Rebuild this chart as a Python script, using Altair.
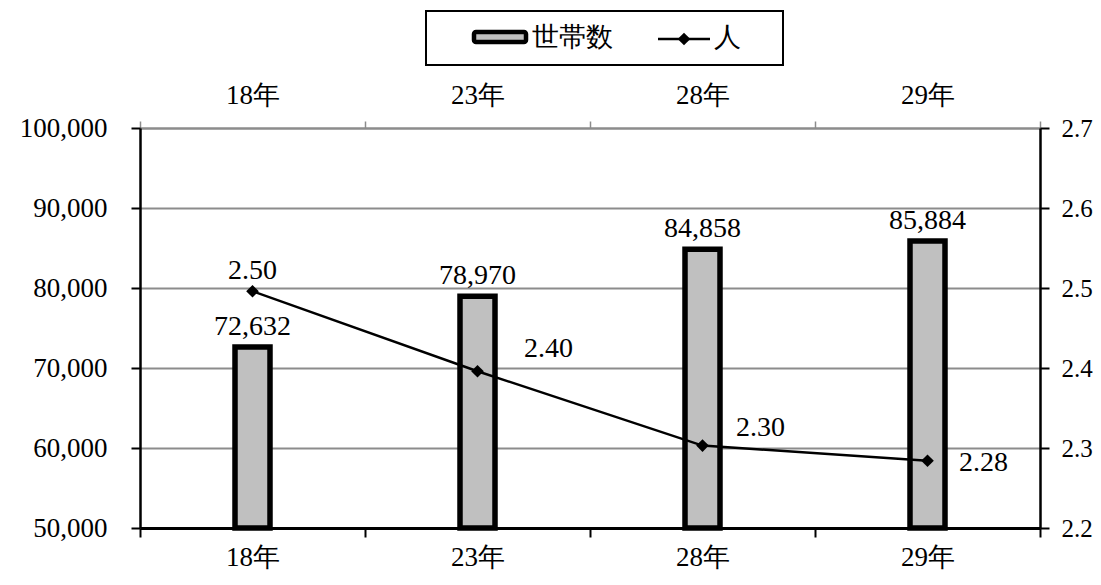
import altair as alt
import pandas as pd

categories = ["18年", "23年", "28年", "29年"]
households = [72632, 78970, 84858, 85884]
persons = [2.496, 2.396, 2.303, 2.284]
person_labels = ["2.50", "2.40", "2.30", "2.28"]

df = pd.DataFrame({
    "cat": categories,
    "households": households,
    "persons": persons,
    "plabel": person_labels,
})

FONT = "Liberation Serif"
GRID = "#8c8c8c"

# label offsets (style) for the line labels
line_label_offsets = [(0, -12), (71, -14), (58, -10), (56, 10)]

xscale = alt.Scale(paddingInner=0, paddingOuter=0)

base = alt.Chart(df)

bar_group = alt.layer(
    base.mark_bar(size=35, fill="#c0c0c0", stroke="black", strokeWidth=5.5).encode(
        y2=alt.datum(50000)
    ),
    base.mark_text(dy=-12, baseline="alphabetic", fontSize=28, font=FONT, color="black").encode(
        text=alt.Text("households:Q", format=",.0f")
    ),
).encode(
    x=alt.X("cat:N", sort=categories, scale=xscale, title=None,
            axis=alt.Axis(orient="bottom", tickBand="extent", labelAngle=0,
                          domainColor="black", domainWidth=3, tickColor="black",
                          tickWidth=2, tickSize=9, labelPadding=7,
                          labelFontSize=27, labelFont=FONT, labelColor="black",
                          labelBaseline="top")),
    y=alt.Y("households:Q", title=None,
            scale=alt.Scale(domain=[50000, 100000], zero=False, nice=False),
            axis=alt.Axis(orient="left", values=[50000, 60000, 70000, 80000, 90000, 100000],
                          format=",.0f", grid=True, gridColor=GRID, gridWidth=1.8,
                          domainColor="black", domainWidth=2.5, tickColor="black",
                          tickWidth=2, tickSize=9, labelPadding=24,
                          labelFontSize=27, labelFont=FONT, labelColor="black")),
)

line_layers = [
    base.mark_line(color="black", strokeWidth=2.5),
    base.mark_point(shape="diamond", filled=True, color="black", size=160, opacity=1),
]
for cat, (dx, dy) in zip(categories, line_label_offsets):
    line_layers.append(
        base.mark_text(dx=dx, dy=dy, baseline="alphabetic", fontSize=28, font=FONT,
                       color="black")
        .encode(text="plabel:N")
        .transform_filter(alt.datum.cat == cat)
    )

line_group = alt.layer(*line_layers).encode(
    x=alt.X("cat:N", sort=categories, scale=xscale, title=None,
            axis=alt.Axis(orient="top", tickBand="extent", labelAngle=0,
                          domainColor=GRID, domainWidth=2, tickColor=GRID,
                          tickWidth=1.5, tickSize=7, labelPadding=12,
                          labelFontSize=27, labelFont=FONT, labelColor="black")),
    y=alt.Y("persons:Q", title=None,
            scale=alt.Scale(domain=[2.2, 2.7], zero=False, nice=False),
            axis=alt.Axis(orient="right", values=[2.2, 2.3, 2.4, 2.5, 2.6, 2.7],
                          format=".1f", grid=False,
                          domainColor="black", domainWidth=2.5, tickColor="black",
                          tickWidth=2, tickSize=9, labelPadding=12,
                          labelFontSize=25, labelFont=FONT, labelColor="black")),
)

one = alt.Data(values=[{"k": 1}])
leg_box = alt.Chart(one).mark_rect(fill="white", stroke="black", strokeWidth=2).encode(
    x=alt.value(286), x2=alt.value(643), y=alt.value(-117), y2=alt.value(-63))
leg_bar = alt.Chart(one).mark_rect(fill="#c0c0c0", stroke="black", strokeWidth=4.5,
                                   cornerRadius=2).encode(
    x=alt.value(334), x2=alt.value(386), y=alt.value(-96), y2=alt.value(-86))
leg_t1 = alt.Chart(one).mark_text(align="left", baseline="middle", fontSize=27,
                                  font=FONT, color="black").encode(
    x=alt.value(392), y=alt.value(-90), text=alt.value("世帯数"))
leg_line = alt.Chart(one).mark_rule(color="black", strokeWidth=2.5).encode(
    x=alt.value(518), x2=alt.value(570), y=alt.value(-89))
leg_pt = alt.Chart(one).mark_point(shape="diamond", filled=True, color="black",
                                   size=160, opacity=1).encode(
    x=alt.value(544), y=alt.value(-89))
leg_t2 = alt.Chart(one).mark_text(align="left", baseline="middle", fontSize=27,
                                  font=FONT, color="black").encode(
    x=alt.value(574), y=alt.value(-90), text=alt.value("人"))

chart = alt.layer(
    bar_group, line_group, leg_box, leg_bar, leg_t1, leg_line, leg_pt, leg_t2
).resolve_scale(y="independent").resolve_axis(x="independent", y="independent").properties(
    width=900, height=400,
    padding={"left": 132, "top": 120, "right": 53, "bottom": 47},
    autosize=alt.AutoSizeParams(type="none"),
    background="white",
).configure_view(stroke=None)

chart.save("out.html", embed_options={"renderer": "svg", "actions": False})
